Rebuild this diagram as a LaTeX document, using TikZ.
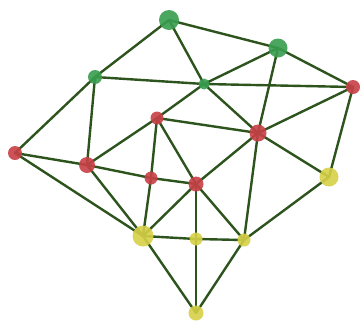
\documentclass[tikz,border=0pt]{standalone}
\usetikzlibrary{backgrounds}
\definecolor{edgec}{RGB}{46,84,30}
\definecolor{gn}{RGB}{56,158,78}
\definecolor{rd}{RGB}{200,64,70}
\definecolor{yl}{RGB}{214,208,70}
\tikzset{
  v/.style={circle,inner sep=0pt,draw=none,fill opacity=0.9},
  gv/.style={v,fill=gn},
  rv/.style={v,fill=rd},
  yv/.style={v,fill=yl},
  ed/.style={draw=edgec,line width=2.4pt,line cap=round}
}
\begin{document}
\begin{tikzpicture}[x=1pt,y=-1pt]
\useasboundingbox (0,0) rectangle (363,322);
\node[gv,minimum size=20pt] (G1) at (169,20) {};
\node[gv,minimum size=19pt] (G2) at (278,48) {};
\node[gv,minimum size=14pt] (G3) at (95,77) {};
\node[gv,minimum size=11pt] (G4) at (204,84) {};
\node[rv,minimum size=14pt] (R1) at (353,87) {};
\node[rv,minimum size=13pt] (R2) at (157,118) {};
\node[rv,minimum size=17pt] (R3) at (258,133) {};
\node[rv,minimum size=14pt] (R4) at (15,153) {};
\node[rv,minimum size=16pt] (R5) at (87,165) {};
\node[rv,minimum size=13pt] (R6) at (151,178) {};
\node[rv,minimum size=15pt] (R7) at (196,184) {};
\node[yv,minimum size=19pt] (Y1) at (329,177) {};
\node[yv,minimum size=21pt] (Y2) at (143,236) {};
\node[yv,minimum size=13pt] (Y3) at (196,239) {};
\node[yv,minimum size=13pt] (Y4) at (244,240) {};
\node[yv,minimum size=15pt] (Y5) at (196,313) {};
\begin{scope}[on background layer]
\fill[white] (0,0) rectangle (363,322);
\foreach \a/\b in {G1/G3,G1/G2,G1/G4,G3/G4,G4/R1,G2/G4,G2/R1,G2/R3,G4/R2,G4/R3,R1/R3,R1/Y1,
  G3/R4,G3/R5,R4/R5,R4/Y2,R5/R2,R5/R6,R5/Y2,R2/R6,R2/R7,R2/R3,R6/R7,R6/Y2,R7/R3,R7/Y2,R7/Y3,R7/Y4,
  R3/Y4,R3/Y1,Y1/Y4,Y2/Y3,Y3/Y4,Y2/Y5,Y3/Y5,Y4/Y5}
  \draw[ed] (\a.center) -- (\b.center);
\end{scope}
\end{tikzpicture}
\end{document}
